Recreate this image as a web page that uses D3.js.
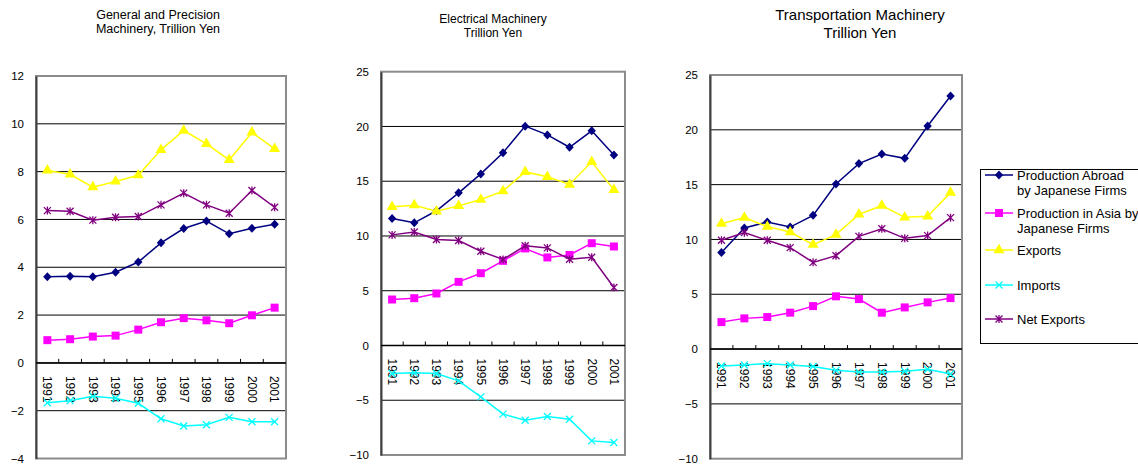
<!DOCTYPE html>
<html lang="en">
<head>
    <meta charset="UTF-8">
    <title>Japanese Machinery: Production Abroad vs Trade</title>
    <script src="https://d3js.org/d3.v7.min.js"></script>
    <style>
        body { margin: 0; background: #fff; }
        text { font-family: "Liberation Sans", Arial, sans-serif; fill: #000; }
        .grid { stroke: #000; stroke-width: 1px; }
        .frame { fill: none; stroke: #8c8c8c; stroke-width: 2px; }
        .series { fill: none; stroke-width: 1.5px; }
    </style>
</head>
<body>
    <script>
    // categories
    const years = ["1991", "1992", "1993", "1994", "1995", "1996", "1997", "1998", "1999", "2000", "2001"];

    // General and Precision Machinery
    const genAbroad  = [3.6, 3.62, 3.6, 3.79, 4.22, 5.02, 5.62, 5.93, 5.4, 5.63, 5.8];
    const genAsia    = [0.95, 0.99, 1.1, 1.14, 1.39, 1.7, 1.87, 1.78, 1.66, 1.99, 2.31];
    const genExports = [8.05, 7.89, 7.35, 7.59, 7.85, 8.91, 9.72, 9.16, 8.49, 9.64, 8.95];
    const genImports = [-1.67, -1.58, -1.4, -1.48, -1.69, -2.34, -2.64, -2.59, -2.28, -2.46, -2.46];
    const genNet     = [6.37, 6.34, 5.97, 6.09, 6.12, 6.61, 7.1, 6.61, 6.26, 7.21, 6.51];
    const genTicks   = [-4, -2, 0, 2, 4, 6, 8, 10, 12];

    // Electrical Machinery
    const elecAbroad  = [11.6, 11.2, 12.3, 13.94, 15.67, 17.6, 20.03, 19.23, 18.1, 19.6, 17.4];
    const elecAsia    = [4.2, 4.32, 4.75, 5.81, 6.6, 7.73, 8.86, 8.04, 8.27, 9.34, 9.04];
    const elecExports = [12.66, 12.81, 12.26, 12.75, 13.33, 14.09, 15.85, 15.4, 14.7, 16.77, 14.21];
    const elecImports = [-2.56, -2.5, -2.56, -3.23, -4.69, -6.27, -6.82, -6.48, -6.73, -8.71, -8.86];
    const elecNet     = [10.1, 10.37, 9.68, 9.59, 8.61, 7.85, 9.1, 8.91, 7.88, 8.06, 5.3];

    // Transportation Machinery
    const tranAbroad  = [8.8, 11.04, 11.59, 11.13, 12.2, 15.06, 16.92, 17.79, 17.4, 20.35, 23.08];
    const tranAsia    = [2.46, 2.8, 2.92, 3.32, 3.92, 4.81, 4.56, 3.32, 3.8, 4.26, 4.65];
    const tranExports = [11.44, 11.99, 11.17, 10.68, 9.53, 10.44, 12.29, 13.08, 12.02, 12.11, 14.27];
    const tranImports = [-1.55, -1.46, -1.33, -1.46, -1.58, -1.94, -2.1, -2.1, -2.03, -1.85, -2.28];
    const tranNet     = [9.92, 10.62, 9.92, 9.25, 7.91, 8.52, 10.28, 10.98, 10.1, 10.35, 11.99];
    const bigTicks    = [-10, -5, 0, 5, 10, 15, 20, 25];

    const seriesNames = ["Production Abroad\nby Japanese Firms", "Production in Asia by\nJapanese Firms", "Exports", "Imports", "Net Exports"];
    const seriesColors = ["#000080", "#ff00ff", "#ffff00", "#00ffff", "#800080"];
    const seriesMarkers = ["diamond", "square", "triangle", "cross", "star"];

    const panels = [
        { title: ["General and Precision", "Machinery, Trillion Yen"], titleX: 158, titleY: [19, 33], titleSize: 12.5,
          left: 36, right: 286, top: 76, bottom: 458.5, ticks: genTicks,
          data: [genAbroad, genAsia, genExports, genImports, genNet] },
        { title: ["Electrical Machinery", "Trillion Yen"], titleX: 493, titleY: [23, 37], titleSize: 12,
          left: 381, right: 625, top: 71.7, bottom: 455, ticks: bigTicks,
          data: [elecAbroad, elecAsia, elecExports, elecImports, elecNet] },
        { title: ["Transportation Machinery", "Trillion Yen"], titleX: 860, titleY: [20, 38], titleSize: 15,
          left: 710, right: 962, top: 75, bottom: 458.7, ticks: bigTicks,
          data: [tranAbroad, tranAsia, tranExports, tranImports, tranNet] }
    ];

    const svg = d3.select("body").append("svg")
        .attr("width", 1138)
        .attr("height", 468);

    function drawMarker(g, type, color, x, y) {
        if (type === "cross" || type === "star") {
            const s = 3.5;
            let p = `M${x - s},${y - s}L${x + s},${y + s}M${x - s},${y + s}L${x + s},${y - s}`;
            if (type === "star") p += `M${x},${y - s - 0.5}L${x},${y + s + 0.5}`;
            g.append("path").attr("d", p).attr("stroke", color).attr("stroke-width", 1.3).attr("fill", "none");
            return;
        }
        if (type === "diamond") {
            g.append("path")
                .attr("d", `M${x},${y - 4.5}L${x + 4.2},${y}L${x},${y + 4.5}L${x - 4.2},${y}Z`)
                .attr("fill", color);
            return;
        }
        const sym = { square: d3.symbolSquare, triangle: d3.symbolTriangle }[type];
        const size = { square: 64, triangle: 52 }[type];
        g.append("path")
            .attr("d", d3.symbol().type(sym).size(size)())
            .attr("transform", `translate(${x},${y})`)
            .attr("fill", color);
    }

    panels.forEach(p => {
        const g = svg.append("g");
        const x = d3.scaleBand().domain(years).range([p.left, p.right]);
        const y = d3.scaleLinear()
            .domain([d3.min(p.ticks), d3.max(p.ticks)])
            .range([p.bottom, p.top]);

        // title
        p.title.forEach((t, i) => {
            g.append("text")
                .attr("x", p.titleX).attr("y", p.titleY[i])
                .attr("text-anchor", "middle")
                .style("font-size", p.titleSize + "px")
                .text(t);
        });

        // gridlines
        g.selectAll(".grid").data(p.ticks.slice(1, -1)).enter().append("line")
            .attr("class", "grid")
            .attr("x1", p.left).attr("x2", p.right)
            .attr("y1", d => y(d)).attr("y2", d => y(d));

        // frame
        g.append("rect").attr("class", "frame")
            .attr("x", p.left).attr("y", p.top)
            .attr("width", p.right - p.left).attr("height", p.bottom - p.top);

        // y axis
        const yAxis = g.append("g")
            .attr("transform", `translate(${p.left},0)`)
            .call(d3.axisLeft(y).tickValues(p.ticks).tickSize(0).tickPadding(12));
        yAxis.select(".domain").attr("stroke", "#404040").attr("stroke-width", 2);
        yAxis.selectAll("text").style("font-size", "11.5px").attr("fill", "#000");

        // category axis on zero line
        const zero = y(0);
        g.append("line")
            .attr("x1", p.left).attr("x2", p.right)
            .attr("y1", zero).attr("y2", zero)
            .attr("stroke", "#000").attr("stroke-width", 1.5);
        g.selectAll(".ctick").data(years.slice(1)).enter().append("line")
            .attr("x1", d => x(d)).attr("x2", d => x(d))
            .attr("y1", zero).attr("y2", zero - 4)
            .attr("stroke", "#000");
        g.selectAll(".clabel").data(years).enter().append("text")
            .attr("transform", d => `translate(${x(d) + x.bandwidth() / 2},${zero + 13}) rotate(90)`)
            .attr("dy", "0.35em")
            .style("font-size", "12px")
            .text(d => d);

        // series
        const line = d3.line()
            .x((d, i) => x(years[i]) + x.bandwidth() / 2)
            .y(d => y(d));
        p.data.forEach((vals, si) => {
            const sg = g.append("g");
            sg.append("path").attr("class", "series")
                .attr("d", line(vals))
                .attr("stroke", seriesColors[si]);
            vals.forEach((v, i) => {
                drawMarker(sg, seriesMarkers[si], seriesColors[si], x(years[i]) + x.bandwidth() / 2, y(v));
            });
        });
    });

    // legend
    const lg = svg.append("g");
    lg.append("rect")
        .attr("x", 980.5).attr("y", 169.5).attr("width", 170).attr("height", 174)
        .attr("fill", "#fff").attr("stroke", "#000").attr("stroke-width", 1);
    const legendY = [175, 213, 250, 285, 319];
    seriesNames.forEach((name, i) => {
        const ly = legendY[i];
        lg.append("line")
            .attr("x1", 985).attr("x2", 1013).attr("y1", ly).attr("y2", ly)
            .attr("stroke", seriesColors[i]).attr("stroke-width", 1.5);
        drawMarker(lg, seriesMarkers[i], seriesColors[i], 999, ly);
        name.split("\n").forEach((t, j) => {
            lg.append("text")
                .attr("x", 1017).attr("y", ly + 4.5 + j * 15)
                .style("font-size", "13px")
                .text(t);
        });
    });
    </script>
</body>
</html>
